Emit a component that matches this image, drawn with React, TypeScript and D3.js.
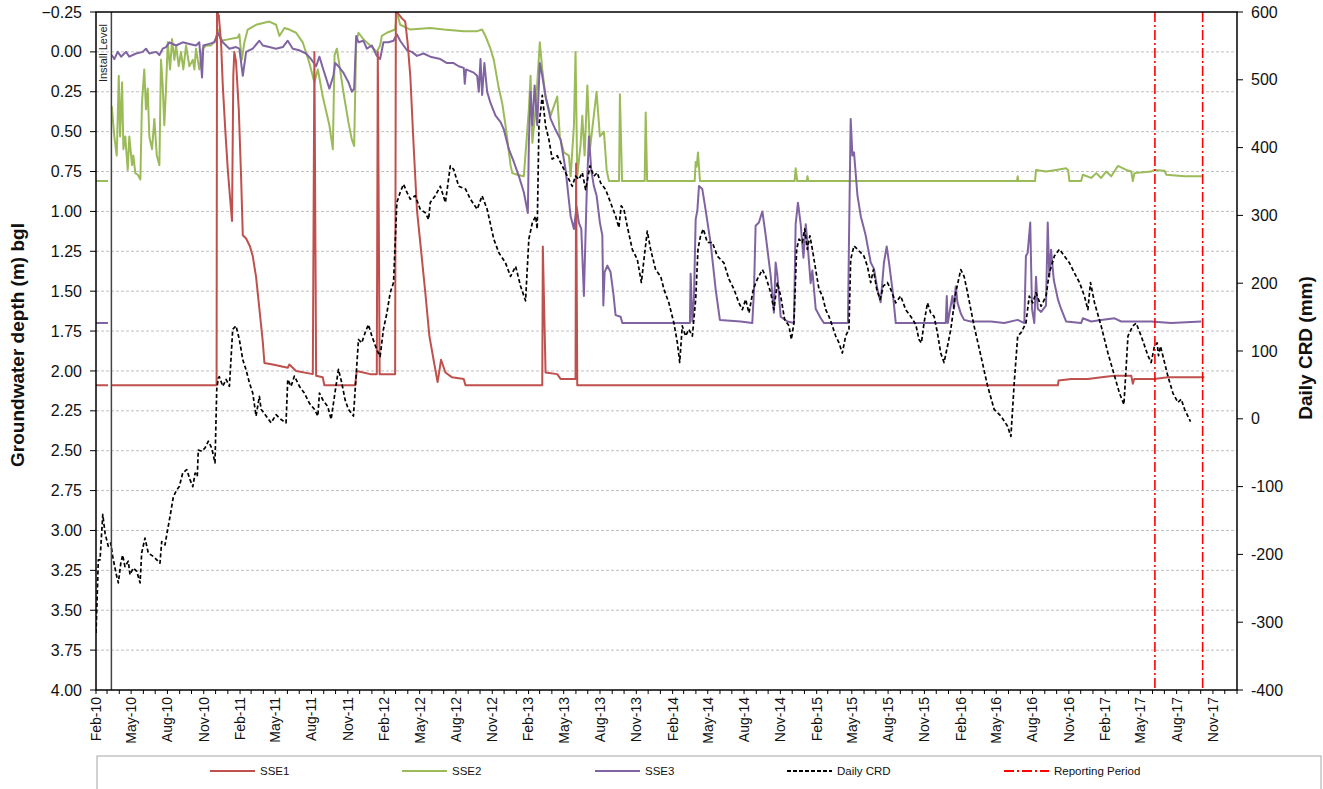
import * as d3 from "d3";

// groundwater depth (m bgl), [decimal year, depth]; null = break in record
const sse1: [number, number | null][] = [
  [2010.085, 2.09], [2010.168, 2.09], [2010.18, null],
  [2010.194, 2.09], [2010.922, 2.09], [2010.925, -0.25], [2010.937, -0.23], [2010.953, -0.06], [2010.965, 0.21],
  [2010.983, 0.5], [2011.0, 0.74], [2011.016, 0.92], [2011.029, 1.06], [2011.038, 0.15], [2011.045, 0.0],
  [2011.057, 0.06], [2011.076, 0.36], [2011.092, 0.78], [2011.104, 1.15], [2011.127, 1.17], [2011.154, 1.22],
  [2011.173, 1.28], [2011.196, 1.41], [2011.219, 1.61], [2011.243, 1.82], [2011.254, 1.95], [2011.312, 1.96],
  [2011.416, 1.98], [2011.427, 1.96], [2011.474, 2.0], [2011.59, 2.02], [2011.601, 0.0], [2011.613, 2.03],
  [2011.659, 2.04], [2011.67, 2.09], [2011.884, 2.09], [2011.895, 2.0], [2011.988, 2.02], [2012.034, 2.02],
  [2012.041, 0.0], [2012.054, 2.02], [2012.161, 2.02], [2012.166, -0.25], [2012.173, -0.25], [2012.208, -0.21],
  [2012.231, -0.19], [2012.247, -0.06], [2012.266, 0.15], [2012.288, 0.57], [2012.312, 0.99], [2012.34, 1.24],
  [2012.37, 1.51], [2012.398, 1.78], [2012.427, 1.93], [2012.455, 2.07], [2012.479, 1.93], [2012.509, 2.01],
  [2012.555, 2.04], [2012.636, 2.05], [2012.648, 2.09], [2013.18, 2.09], [2013.184, 1.22], [2013.203, 2.01],
  [2013.284, 2.02], [2013.307, 2.05], [2013.411, 2.05], [2013.415, 0.7], [2013.423, 2.09], [2016.757, 2.09],
  [2016.762, 2.06], [2016.85, 2.05], [2016.965, 2.05], [2017.06, 2.04], [2017.148, 2.03], [2017.266, 2.03],
  [2017.277, 2.08], [2017.286, 2.05], [2017.425, 2.05], [2017.52, 2.04], [2017.65, 2.04], [2017.773, 2.04],
];

const sse2: [number, number | null][] = [
  [2010.085, 0.81], [2010.168, 0.81], [2010.18, null],
  [2010.194, 0.34], [2010.212, 0.53], [2010.229, 0.65], [2010.243, 0.15], [2010.252, 0.53], [2010.266, 0.19],
  [2010.275, 0.61], [2010.288, 0.53], [2010.305, 0.74], [2010.316, 0.53], [2010.335, 0.71], [2010.344, 0.65],
  [2010.358, 0.76], [2010.375, 0.77], [2010.393, 0.8], [2010.404, 0.32], [2010.42, 0.11], [2010.432, 0.36],
  [2010.444, 0.23], [2010.455, 0.53], [2010.474, 0.61], [2010.49, 0.42], [2010.507, 0.65], [2010.525, 0.71],
  [2010.536, 0.05], [2010.548, 0.21], [2010.559, 0.46], [2010.571, 0.23], [2010.583, -0.06], [2010.599, 0.11],
  [2010.613, -0.08], [2010.629, 0.05], [2010.641, -0.04], [2010.659, 0.09], [2010.675, 0.0], [2010.691, 0.11],
  [2010.71, -0.04], [2010.733, 0.09], [2010.757, 0.05], [2010.768, 0.11], [2010.779, -0.02], [2010.802, 0.11],
  [2010.826, -0.02], [2010.849, -0.04], [2010.884, -0.04], [2010.918, -0.08], [2010.93, -0.14], [2010.953, -0.07],
  [2011.011, -0.08], [2011.069, -0.09], [2011.08, -0.11], [2011.097, 0.05], [2011.115, -0.06], [2011.138, -0.14],
  [2011.196, -0.17], [2011.288, -0.19], [2011.335, -0.17], [2011.358, -0.1], [2011.393, -0.15], [2011.427, -0.14],
  [2011.474, -0.12], [2011.52, -0.06], [2011.566, 0.07], [2011.601, 0.19], [2011.625, 0.11], [2011.659, 0.28],
  [2011.705, 0.46], [2011.729, 0.61], [2011.741, 0.02], [2011.757, -0.02], [2011.779, 0.11], [2011.802, 0.25],
  [2011.837, 0.44], [2011.861, 0.55], [2011.877, 0.59], [2011.891, -0.06], [2011.907, -0.12], [2011.941, -0.08],
  [2011.988, -0.04], [2012.034, 0.0], [2012.057, -0.04], [2012.069, -0.1], [2012.104, -0.12], [2012.161, -0.14],
  [2012.173, -0.25], [2012.196, -0.17], [2012.266, -0.14], [2012.404, -0.15], [2012.497, -0.14], [2012.636, -0.13],
  [2012.729, -0.13], [2012.763, -0.14], [2012.786, -0.1], [2012.821, -0.02], [2012.844, 0.05], [2012.879, 0.23],
  [2012.902, 0.32], [2012.925, 0.46], [2012.96, 0.71], [2012.972, 0.76], [2013.007, 0.77], [2013.052, 0.78],
  [2013.087, 0.36], [2013.099, 0.15], [2013.111, 0.57], [2013.134, 0.36], [2013.163, -0.06], [2013.18, 0.11],
  [2013.203, 0.28], [2013.238, 0.4], [2013.284, 0.28], [2013.302, 0.53], [2013.33, 0.63], [2013.365, 0.65],
  [2013.377, 0.78], [2013.4, 0.46], [2013.411, 0.0], [2013.423, 0.78], [2013.446, 0.58], [2013.458, 0.4],
  [2013.474, 0.65], [2013.493, 0.21], [2013.511, 0.61], [2013.538, 0.4], [2013.557, 0.25], [2013.58, 0.53],
  [2013.608, 0.5], [2013.627, 0.74], [2013.643, 0.81], [2013.713, 0.81], [2013.719, 0.265], [2013.734, 0.81],
  [2013.891, 0.81], [2013.898, 0.38], [2013.908, 0.81], [2014.238, 0.81], [2014.245, 0.69], [2014.252, 0.72],
  [2014.261, 0.63], [2014.275, 0.81], [2014.932, 0.81], [2014.939, 0.73], [2014.95, 0.81], [2015.016, 0.81],
  [2015.021, 0.78], [2015.027, 0.81], [2016.474, 0.81], [2016.479, 0.78], [2016.484, 0.81], [2016.599, 0.81],
  [2016.606, 0.74], [2016.675, 0.75], [2016.745, 0.74], [2016.814, 0.73], [2016.828, 0.74], [2016.837, 0.81],
  [2016.918, 0.81], [2016.93, 0.77], [2016.988, 0.79], [2017.023, 0.76], [2017.057, 0.79], [2017.092, 0.75],
  [2017.127, 0.78], [2017.173, 0.715], [2017.231, 0.74], [2017.266, 0.75], [2017.277, 0.81], [2017.288, 0.76],
  [2017.404, 0.75], [2017.427, 0.74], [2017.497, 0.745], [2017.509, 0.77], [2017.636, 0.78], [2017.763, 0.78],
];

const sse3: [number, number | null][] = [
  [2010.085, 1.7], [2010.168, 1.7], [2010.18, null],
  [2010.194, 0.02], [2010.212, 0.045], [2010.236, 0.0], [2010.259, 0.03], [2010.293, 0.0], [2010.316, 0.03],
  [2010.363, 0.01], [2010.409, 0.0], [2010.432, -0.02], [2010.455, 0.01], [2010.502, 0.0], [2010.525, 0.02],
  [2010.548, -0.02], [2010.571, -0.03], [2010.594, -0.06], [2010.641, -0.04], [2010.687, -0.06], [2010.733, -0.05],
  [2010.779, -0.04], [2010.802, -0.06], [2010.821, 0.16], [2010.83, -0.04], [2010.872, -0.05], [2010.907, -0.06],
  [2010.93, -0.12], [2010.965, -0.06], [2011.011, -0.02], [2011.057, -0.03], [2011.08, -0.02], [2011.104, 0.15],
  [2011.127, 0.0], [2011.173, -0.02], [2011.219, -0.07], [2011.243, -0.04], [2011.288, -0.03], [2011.335, -0.02],
  [2011.382, -0.03], [2011.416, -0.07], [2011.451, -0.02], [2011.497, -0.01], [2011.543, 0.01], [2011.578, 0.045],
  [2011.613, 0.09], [2011.636, 0.03], [2011.659, 0.1], [2011.705, 0.23], [2011.733, 0.15], [2011.745, 0.07],
  [2011.768, 0.09], [2011.802, 0.13], [2011.837, 0.19], [2011.861, 0.25], [2011.877, 0.23], [2011.891, -0.1],
  [2011.907, -0.06], [2011.941, -0.07], [2011.965, -0.02], [2012.0, -0.04], [2012.034, 0.025], [2012.057, 0.045],
  [2012.08, -0.06], [2012.115, -0.06], [2012.15, -0.07], [2012.173, -0.11], [2012.196, -0.07], [2012.219, -0.04],
  [2012.243, -0.01], [2012.277, 0.0], [2012.312, 0.025], [2012.358, 0.01], [2012.404, 0.03], [2012.474, 0.045],
  [2012.52, 0.07], [2012.566, 0.07], [2012.601, 0.09], [2012.636, 0.1], [2012.643, 0.2], [2012.652, 0.11],
  [2012.705, 0.13], [2012.729, 0.15], [2012.74, 0.25], [2012.752, 0.045], [2012.763, 0.27], [2012.779, 0.07],
  [2012.798, 0.25], [2012.821, 0.32], [2012.856, 0.4], [2012.891, 0.44], [2012.913, 0.485], [2012.948, 0.61],
  [2012.983, 0.69], [2013.018, 0.78], [2013.052, 0.88], [2013.08, 1.01], [2013.087, 0.57], [2013.099, 0.25],
  [2013.111, 0.46], [2013.127, 0.21], [2013.145, 0.46], [2013.163, 0.07], [2013.18, 0.15], [2013.203, 0.28],
  [2013.238, 0.42], [2013.273, 0.49], [2013.307, 0.55], [2013.342, 0.74], [2013.377, 1.03], [2013.4, 1.11],
  [2013.418, 0.97], [2013.434, 1.07], [2013.451, 1.11], [2013.469, 1.53], [2013.488, 0.9], [2013.504, 0.53],
  [2013.52, 0.74], [2013.538, 0.84], [2013.557, 0.9], [2013.58, 1.07], [2013.597, 1.15], [2013.604, 1.59],
  [2013.613, 1.38], [2013.632, 1.34], [2013.654, 1.38], [2013.673, 1.51], [2013.689, 1.65], [2013.724, 1.66],
  [2013.736, 1.7], [2014.205, 1.7], [2014.21, 1.39], [2014.222, 1.69], [2014.233, 1.55], [2014.245, 1.05],
  [2014.257, 0.99], [2014.268, 0.84], [2014.291, 0.86], [2014.314, 0.99], [2014.349, 1.2], [2014.384, 1.49],
  [2014.413, 1.68], [2014.557, 1.69], [2014.638, 1.7], [2014.65, 1.49], [2014.661, 1.09], [2014.684, 1.07],
  [2014.708, 1.0], [2014.731, 1.15], [2014.766, 1.405], [2014.788, 1.635], [2014.8, 1.32], [2014.812, 1.4],
  [2014.835, 1.66], [2014.882, 1.69], [2014.927, 1.7], [2014.939, 1.08], [2014.955, 0.945], [2014.974, 1.08],
  [2014.993, 1.29], [2015.009, 1.08], [2015.025, 1.24], [2015.043, 1.45], [2015.055, 1.37], [2015.078, 1.61],
  [2015.113, 1.67], [2015.136, 1.7], [2015.302, 1.7], [2015.309, 1.2], [2015.321, 0.42], [2015.333, 0.65],
  [2015.344, 0.63], [2015.368, 0.9], [2015.391, 1.03], [2015.425, 1.15], [2015.46, 1.32], [2015.483, 1.36],
  [2015.507, 1.49], [2015.529, 1.57], [2015.552, 1.32], [2015.571, 1.22], [2015.587, 1.32], [2015.611, 1.49],
  [2015.634, 1.7], [2015.981, 1.7], [2015.988, 1.53], [2015.995, 1.7], [2016.027, 1.53], [2016.038, 1.61],
  [2016.05, 1.47], [2016.062, 1.57], [2016.085, 1.64], [2016.108, 1.68], [2016.154, 1.69], [2016.293, 1.69],
  [2016.386, 1.7], [2016.479, 1.68], [2016.525, 1.7], [2016.536, 1.28], [2016.548, 1.26], [2016.566, 1.07],
  [2016.578, 1.61], [2016.594, 1.7], [2016.606, 1.41], [2016.618, 1.61], [2016.641, 1.63], [2016.675, 1.59],
  [2016.687, 1.07], [2016.698, 1.41], [2016.71, 1.24], [2016.729, 1.43], [2016.757, 1.55], [2016.779, 1.61],
  [2016.814, 1.69], [2016.918, 1.7], [2016.93, 1.67], [2016.988, 1.69], [2017.057, 1.68], [2017.15, 1.67],
  [2017.196, 1.69], [2017.288, 1.69], [2017.404, 1.69], [2017.543, 1.7], [2017.752, 1.69],
];

// daily cumulative rainfall departure (mm), [decimal year, mm]
const crd: [number, number][] = [
  [2010.085, -316], [2010.094, -257], [2010.101, -208], [2010.113, -208], [2010.132, -141], [2010.148, -169],
  [2010.17, -188], [2010.187, -183], [2010.201, -203], [2010.224, -228], [2010.24, -242], [2010.257, -213],
  [2010.27, -201], [2010.286, -218], [2010.309, -210], [2010.321, -230], [2010.344, -220], [2010.368, -225],
  [2010.391, -242], [2010.402, -198], [2010.425, -176], [2010.448, -198], [2010.483, -203], [2010.507, -208],
  [2010.529, -213], [2010.541, -181], [2010.564, -186], [2010.58, -166], [2010.599, -144], [2010.622, -115],
  [2010.645, -105], [2010.663, -100], [2010.687, -80], [2010.715, -75], [2010.738, -90], [2010.757, -100],
  [2010.773, -80], [2010.788, -85], [2010.795, -46], [2010.819, -48], [2010.842, -43], [2010.865, -33],
  [2010.888, -43], [2010.911, -65], [2010.923, 43], [2010.934, 60], [2010.941, 62], [2010.965, 48],
  [2010.988, 58], [2011.011, 48], [2011.034, 132], [2011.057, 137], [2011.08, 117], [2011.104, 87],
  [2011.127, 72], [2011.15, 53], [2011.173, 38], [2011.196, 4], [2011.219, 33], [2011.231, 14], [2011.266, 4],
  [2011.3, -6], [2011.335, 6], [2011.37, -1], [2011.404, -6], [2011.416, 58], [2011.439, 48], [2011.462, 63],
  [2011.497, 48], [2011.531, 38], [2011.566, 23], [2011.601, 14], [2011.625, 4], [2011.636, 38], [2011.659, 28],
  [2011.694, 18], [2011.717, -1], [2011.74, 33], [2011.768, 73], [2011.791, 53], [2011.814, 28], [2011.837, 14],
  [2011.872, 4], [2011.895, 78], [2011.907, 117], [2011.93, 112], [2011.953, 127], [2011.976, 139],
  [2012.0, 122], [2012.034, 102], [2012.057, 92], [2012.08, 132], [2012.104, 156], [2012.127, 186],
  [2012.15, 201], [2012.173, 319], [2012.196, 334], [2012.219, 346], [2012.243, 334], [2012.266, 324],
  [2012.3, 329], [2012.335, 309], [2012.37, 304], [2012.393, 294], [2012.404, 319], [2012.439, 329],
  [2012.474, 343], [2012.509, 319], [2012.543, 373], [2012.566, 368], [2012.601, 343], [2012.648, 339],
  [2012.682, 324], [2012.729, 309], [2012.763, 329], [2012.798, 309], [2012.844, 265], [2012.879, 245],
  [2012.925, 230], [2012.96, 210], [2012.995, 225], [2013.029, 196], [2013.064, 174], [2013.087, 265],
  [2013.111, 289], [2013.134, 299], [2013.145, 280], [2013.157, 432], [2013.18, 477], [2013.203, 432],
  [2013.226, 412], [2013.249, 383], [2013.284, 388], [2013.319, 373], [2013.354, 358], [2013.388, 343],
  [2013.411, 358], [2013.434, 353], [2013.458, 363], [2013.481, 338], [2013.511, 373], [2013.538, 358],
  [2013.562, 363], [2013.585, 348], [2013.62, 338], [2013.654, 319], [2013.689, 299], [2013.712, 282],
  [2013.728, 314], [2013.747, 309], [2013.77, 284], [2013.805, 250], [2013.84, 235], [2013.868, 201],
  [2013.886, 235], [2013.909, 277], [2013.932, 250], [2013.967, 220], [2014.002, 210], [2014.025, 191],
  [2014.059, 171], [2014.094, 141], [2014.118, 112], [2014.134, 83], [2014.152, 137], [2014.175, 122],
  [2014.198, 132], [2014.222, 122], [2014.245, 176], [2014.261, 250], [2014.279, 270], [2014.298, 280],
  [2014.326, 260], [2014.361, 260], [2014.395, 240], [2014.441, 230], [2014.476, 206], [2014.511, 191],
  [2014.545, 171], [2014.569, 161], [2014.592, 176], [2014.615, 156], [2014.645, 191], [2014.673, 206],
  [2014.708, 220], [2014.731, 210], [2014.766, 186], [2014.788, 161], [2014.812, 201], [2014.835, 181],
  [2014.863, 146], [2014.893, 137], [2014.909, 117], [2014.927, 141], [2014.946, 250], [2014.962, 265],
  [2014.986, 260], [2015.002, 280], [2015.02, 250], [2015.038, 270], [2015.055, 250], [2015.078, 220],
  [2015.101, 191], [2015.125, 181], [2015.148, 161], [2015.17, 151], [2015.194, 137], [2015.217, 122],
  [2015.24, 112], [2015.263, 97], [2015.286, 122], [2015.309, 132], [2015.321, 235], [2015.344, 255],
  [2015.368, 250], [2015.391, 245], [2015.413, 240], [2015.437, 225], [2015.46, 201], [2015.479, 220],
  [2015.502, 191], [2015.525, 176], [2015.548, 196], [2015.576, 201], [2015.599, 191], [2015.634, 171],
  [2015.668, 181], [2015.703, 161], [2015.738, 151], [2015.773, 139], [2015.795, 117], [2015.812, 112],
  [2015.83, 141], [2015.854, 171], [2015.877, 156], [2015.9, 151], [2015.923, 127], [2015.946, 97],
  [2015.969, 83], [2015.993, 107], [2016.016, 132], [2016.05, 186], [2016.085, 220], [2016.108, 210],
  [2016.132, 186], [2016.177, 137], [2016.224, 93], [2016.27, 49], [2016.316, 14], [2016.363, 4],
  [2016.409, -11], [2016.432, -26], [2016.455, 53], [2016.479, 122], [2016.502, 127], [2016.536, 141],
  [2016.559, 181], [2016.583, 171], [2016.606, 186], [2016.641, 166], [2016.675, 181], [2016.698, 215],
  [2016.733, 240], [2016.768, 250], [2016.802, 240], [2016.837, 230], [2016.872, 215], [2016.907, 201],
  [2016.941, 181], [2016.965, 161], [2016.983, 201], [2017.011, 171], [2017.057, 137], [2017.104, 97],
  [2017.15, 63], [2017.184, 38], [2017.215, 21], [2017.231, 78], [2017.243, 122], [2017.277, 137],
  [2017.3, 141], [2017.335, 122], [2017.382, 93], [2017.404, 83], [2017.427, 107], [2017.446, 112],
  [2017.455, 93], [2017.469, 107], [2017.497, 83], [2017.52, 63], [2017.555, 38], [2017.59, 24],
  [2017.613, 29], [2017.636, 14], [2017.677, -4],
];

const installDate = "2010-03-12";
const reportingPeriod = ["2017-06-07", "2017-10-06"];

const depthTicks = [-0.25, 0, 0.25, 0.5, 0.75, 1, 1.25, 1.5, 1.75, 2, 2.25, 2.5, 2.75, 3, 3.25, 3.5, 3.75, 4];
const crdTicks = [600, 500, 400, 300, 200, 100, 0, -100, -200, -300, -400];

const legendItems = [
  { label: "SSE1", color: "#C0504D", dash: "none", x: 210 },
  { label: "SSE2", color: "#9BBB59", dash: "none", x: 402 },
  { label: "SSE3", color: "#8064A2", dash: "none", x: 595 },
  { label: "Daily CRD", color: "#000000", dash: "4,2", x: 787 },
  { label: "Reporting Period", color: "#FF0000", dash: "10,3,2,3", x: 1004 },
];

function toDate(t: number) {
  const y = Math.floor(t);
  const a = new Date(y, 0, 1).getTime();
  const b = new Date(y + 1, 0, 1).getTime();
  return new Date(a + (t - y) * (b - a));
}

const W = 1323, H = 789;
const left = 96, right = 1237, top = 12, bottom = 690;
const font = "'Liberation Sans', Arial, sans-serif";

export default function App() {
  const x = d3.scaleTime().domain([new Date(2010, 1, 1), new Date(2018, 0, 1)]).range([left, right]);
  const y = d3.scaleLinear().domain([-0.25, 4]).range([top, bottom]);
  const y2 = d3.scaleLinear().domain([600, -400]).range([top, bottom]);

  const depthLine = d3.line<[number, number | null]>()
    .defined(d => d[1] !== null)
    .x(d => x(toDate(d[0])))
    .y(d => y(d[1] as number));
  const crdLine = d3.line<[number, number]>()
    .x(d => x(toDate(d[0])))
    .y(d => y2(d[1]));

  const months = d3.timeMonths(new Date(2010, 1, 1), new Date(2018, 0, 2));
  const quarters = months.filter(m => (m.getMonth() - 1) % 3 === 0);
  const fmt = d3.timeFormat("%b-%y");
  const installX = x(new Date(installDate + "T00:00"));

  return (
    <svg width={W} height={H} style={{ position: "absolute", left: 0, top: 0, background: "#fff" }} fontFamily={font}>
      <defs>
        <clipPath id="plot"><rect x={left} y={top} width={right - left} height={bottom - top} /></clipPath>
      </defs>
      {depthTicks.slice(1, -1).map(t => (
        <line key={t} x1={left} x2={right} y1={y(t)} y2={y(t)} stroke="#BFBFBF" strokeWidth={1} strokeDasharray="3,2" />
      ))}
      <g clipPath="url(#plot)" fill="none" strokeLinejoin="round">
        <path d={depthLine(sse2) || ""} stroke="#9BBB59" strokeWidth={2} />
        <path d={depthLine(sse3) || ""} stroke="#8064A2" strokeWidth={2} />
        <path d={depthLine(sse1) || ""} stroke="#C0504D" strokeWidth={2} />
        <path d={crdLine(crd) || ""} stroke="#000" strokeWidth={1.7} strokeDasharray="4,2.5" />
      </g>
      {reportingPeriod.map(d => {
        const px = x(new Date(d + "T00:00"));
        return <line key={d} x1={px} x2={px} y1={top} y2={bottom} stroke="#FF0000" strokeWidth={1.6} strokeDasharray="10,3,2,3" />;
      })}
      <line x1={installX} x2={installX} y1={top} y2={bottom} stroke="#444" strokeWidth={1.5} />
      <text transform={`translate(${installX - 4},24) rotate(-90)`} textAnchor="end" fontSize={11} fill="#222">Install Level</text>

      <rect x={left} y={top} width={right - left} height={bottom - top} fill="none" stroke="#000" strokeWidth={1.5} />

      {depthTicks.map(t => (
        <g key={t}>
          <line x1={left - 6} x2={left} y1={y(t)} y2={y(t)} stroke="#000" />
          <text x={82} y={y(t)} dy="0.35em" textAnchor="end" fontSize={16} fill="#111">{d3.format(".2f")(t)}</text>
        </g>
      ))}
      {crdTicks.map(t => (
        <g key={t}>
          <line x1={right} x2={right + 6} y1={y2(t)} y2={y2(t)} stroke="#000" />
          <text x={1251} y={y2(t)} dy="0.35em" textAnchor="start" fontSize={16} fill="#111">{t}</text>
        </g>
      ))}
      {months.map(m => (
        <line key={+m} x1={x(m)} x2={x(m)} y1={bottom} y2={bottom + 4} stroke="#000" />
      ))}
      {quarters.map(m => (
        <text key={+m} transform={`translate(${x(m)},${bottom + 7}) rotate(-90)`} dy="0.35em" textAnchor="end" fontSize={14} fill="#111">{fmt(m)}</text>
      ))}

      <text transform={`translate(17,345) rotate(-90)`} textAnchor="middle" dominantBaseline="central" fontSize={19} fontWeight="bold" fill="#111">Groundwater depth (m) bgl</text>
      <text transform={`translate(1305,348) rotate(-90)`} textAnchor="middle" dominantBaseline="central" fontSize={19} fontWeight="bold" fill="#111">Daily CRD (mm)</text>

      <rect x={97} y={756} width={1224} height={45} fill="none" stroke="#A6A6A6" />
      {legendItems.map(it => (
        <g key={it.label}>
          <line x1={it.x} x2={it.x + 45} y1={771} y2={771} stroke={it.color} strokeWidth={2} strokeDasharray={it.dash} />
          <text x={it.x + 50} y={771} dy="0.35em" fontSize={11.5} fill="#111">{it.label}</text>
        </g>
      ))}
    </svg>
  );
}
